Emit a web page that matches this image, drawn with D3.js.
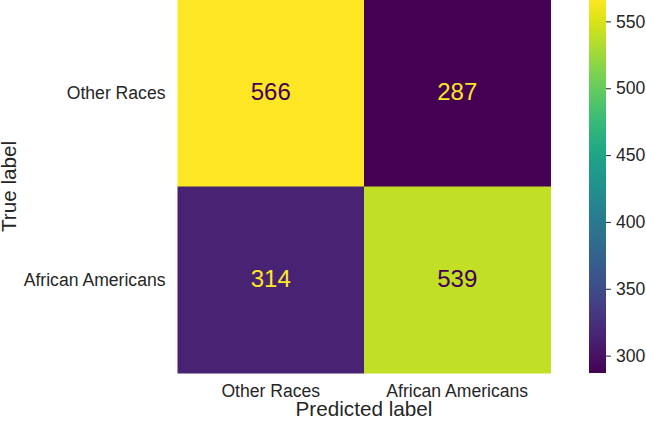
<!DOCTYPE html>
<html lang="en">
	<head>
		<meta charset="utf-8">
		<title>Confusion matrix</title>
		<script type="text/javascript" src="https://cdn.jsdelivr.net/npm/d3@7"></script>
		<style type="text/css">
			body { margin: 0; background: #fff; }
			text { font-family: "Liberation Sans", Arial, sans-serif; fill: #262626; }
		</style>
	</head>
	<body>
		<script type="text/javascript">

			//Data
			var trueLabels = ["Other Races", "African Americans"];
			var predLabels = ["Other Races", "African Americans"];
			var counts = [ [566, 287],
						   [314, 539] ];
			var cbarTicks = [300, 350, 400, 450, 500, 550];

			var w = 646;
			var h = 421;

			//Matrix area
			var mx = 177.5, my = 0, msize = 373;

			var cells = [];
			counts.forEach(function(row, i) {
				row.forEach(function(v, j) {
					cells.push({ r: trueLabels[i], c: predLabels[j], value: v });
				});
			});

			var vmin = d3.min(cells, function(d) { return d.value; });
			var vmax = d3.max(cells, function(d) { return d.value; });

			var xScale = d3.scaleBand().domain(predLabels).range([mx, mx + msize]);
			var yScale = d3.scaleBand().domain(trueLabels).range([my, my + msize]);
			var color = d3.scaleSequential(d3.interpolateViridis).domain([vmin, vmax]);

			var svg = d3.select("body")
						.append("svg")
						.attr("width", w)
						.attr("height", h);

			//Cells
			svg.selectAll("rect.cell")
			   .data(cells)
			   .enter()
			   .append("rect")
			   .attr("class", "cell")
			   .attr("x", function(d) { return xScale(d.c); })
			   .attr("y", function(d) { return yScale(d.r); })
			   .attr("width", xScale.bandwidth() + 0.5)
			   .attr("height", yScale.bandwidth() + 0.5)
			   .attr("fill", function(d) { return color(d.value); });

			//Cell values - dark text on bright cells, bright text on dark ones
			var thresh = (vmin + vmax) / 2;
			svg.selectAll("text.val")
			   .data(cells)
			   .enter()
			   .append("text")
			   .attr("class", "val")
			   .text(function(d) { return d.value; })
			   .attr("text-anchor", "middle")
			   .attr("x", function(d) { return xScale(d.c) + xScale.bandwidth() / 2; })
			   .attr("y", function(d) { return yScale(d.r) + yScale.bandwidth() / 2 + 7; })
			   .attr("font-size", "24px")
			   .style("fill", function(d) { return d.value > thresh ? color(vmin) : color(vmax); });

			//Axes
			var xAxis = d3.axisBottom(xScale).tickSize(0).tickPadding(12);
			var yAxis = d3.axisLeft(yScale).tickSize(0).tickPadding(12);

			var gx = svg.append("g")
				.attr("transform", "translate(0," + (my + msize) + ")")
				.call(xAxis);
			var gy = svg.append("g")
				.attr("transform", "translate(" + mx + ",0)")
				.call(yAxis);
			[gx, gy].forEach(function(g) {
				g.select(".domain").remove();
				g.selectAll("text").attr("font-size", "17.6px").attr("font-family", null).style("fill", "#262626");
			});
			gx.selectAll("text").attr("dy", null).attr("y", 24);
			gy.selectAll("text").attr("dy", "0.35em");

			//Axis titles
			svg.append("text")
			   .text("Predicted label")
			   .attr("text-anchor", "middle")
			   .attr("x", mx + msize / 2)
			   .attr("y", 416)
			   .attr("font-size", "20.7px");

			svg.append("text")
			   .text("True label")
			   .attr("text-anchor", "middle")
			   .attr("transform", "translate(16," + (my + msize / 2) + ") rotate(-90)")
			   .attr("font-size", "20.7px");

			//Colorbar
			var cbx = 589, cbw = 17;
			var cScale = d3.scaleLinear().domain([vmin, vmax]).range([my + msize, my]);

			var defs = svg.append("defs");
			var grad = defs.append("linearGradient")
				.attr("id", "cbar")
				.attr("x1", "0").attr("y1", "1")
				.attr("x2", "0").attr("y2", "0");
			d3.range(0, 1.0001, 0.05).forEach(function(t) {
				grad.append("stop")
					.attr("offset", t)
					.attr("stop-color", d3.interpolateViridis(t));
			});

			svg.append("rect")
			   .attr("x", cbx)
			   .attr("y", cScale(vmax))
			   .attr("width", cbw)
			   .attr("height", cScale(vmin) - cScale(vmax))
			   .attr("fill", "url(#cbar)");

			var cAxis = d3.axisRight(cScale).tickValues(cbarTicks).tickSize(5).tickPadding(5);
			var gc = svg.append("g")
				.attr("transform", "translate(" + (cbx + cbw) + ",0)")
				.call(cAxis);
			gc.select(".domain").remove();
			gc.selectAll("line").attr("stroke", "#262626");
			gc.selectAll("text").attr("font-size", "17.6px").attr("font-family", null).style("fill", "#262626");

		</script>
	</body>
</html>
